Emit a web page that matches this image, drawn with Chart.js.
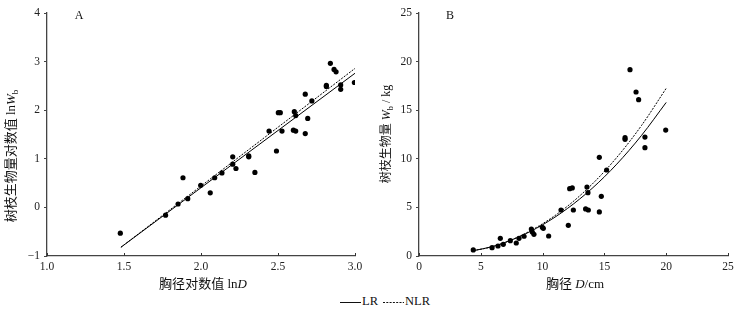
<!DOCTYPE html>
<html>
<head>
<meta charset="utf-8">
<script src="https://cdn.jsdelivr.net/npm/chart.js@4.4.1/dist/chart.umd.min.js"></script>
<style>
  body { margin: 0; background: #fff; }
  #wrap { position: relative; width: 738px; height: 317px; }
  #leftChart { position: absolute; left: 0; top: 0; }
  #rightChart { position: absolute; left: 369px; top: 0; }
  .lg { position: absolute; top: 294px; line-height: 16px; font: 12.5px "Liberation Serif", "Times New Roman", serif; color: #111; }
</style>
</head>
<body>
<div id="wrap">
  <canvas id="leftChart" width="369" height="290"></canvas>
  <canvas id="rightChart" width="369" height="290"></canvas>
  <svg style="position:absolute;left:339px;top:296px" width="24" height="12"><line x1="1" y1="6.5" x2="22" y2="6.5" stroke="#111" stroke-width="1"/></svg>
  <span class="lg" style="left:362px">LR</span>
  <svg style="position:absolute;left:382px;top:296px" width="24" height="12"><line x1="1" y1="6.5" x2="22" y2="6.5" stroke="#111" stroke-width="1" stroke-dasharray="2,1.3"/></svg>
  <span class="lg" style="left:405px">NLR</span>
</div>
<script>
// A: log-log scatter (ln D vs ln Wb)
let lnD  = [1.476, 1.77, 1.851, 1.883, 1.914, 1.998, 2.06, 2.089, 2.136, 2.206, 2.206, 2.227,
            2.31, 2.31, 2.35, 2.442, 2.49, 2.502, 2.515, 2.526, 2.6, 2.606, 2.615, 2.615,
            2.677, 2.677, 2.693, 2.72, 2.814, 2.814, 2.84, 2.864, 2.877, 2.907, 2.907, 2.996];
let lnWb = [-0.53, -0.16, 0.07, 0.61, 0.18, 0.455, 0.30, 0.61, 0.71, 1.04, 0.89, 0.80,
            1.06, 1.04, 0.72, 1.57, 1.16, 1.95, 1.95, 1.57, 1.59, 1.97, 1.89, 1.57,
            2.33, 1.52, 1.83, 2.19, 2.51, 2.49, 2.965, 2.84, 2.79, 2.52, 2.43, 2.57];
let lnFitX   = [1.48, 3.0];
let lnFitLR  = [-0.82, 2.76];
let lnFitNLR = [-0.82, 2.86];

// B: D vs Wb
let diamD = [4.39, 5.91, 6.39, 6.58, 6.82, 7.39, 7.87, 8.09, 8.5, 9.09, 9.17, 9.3,
             9.98, 10.06, 10.49, 11.49, 12.08, 12.19, 12.4, 12.49, 13.48, 13.59, 13.67, 13.7,
             14.59, 14.59, 14.75, 15.18, 16.67, 16.67, 17.07, 17.56, 17.77, 18.28, 18.28, 19.96];
let branchW = [0.62, 0.86, 1.03, 1.82, 1.2, 1.58, 1.34, 1.82, 2.03, 2.78, 2.47, 2.23,
               2.95, 2.85, 2.06, 4.73, 3.16, 6.93, 7.0, 4.73, 4.84, 7.1, 6.52, 4.73,
               10.15, 4.53, 6.14, 8.85, 12.17, 12.0, 19.17, 16.87, 16.08, 12.24, 11.14, 12.96];
let fitD      = [4.4, 6, 8, 10, 12, 14, 16, 18, 20];
let fitLR     = [0.55, 0.99, 1.92, 3.21, 4.88, 6.95, 9.45, 12.4, 15.8];
let fitNLR    = [0.55, 0.98, 1.95, 3.32, 5.11, 7.38, 10.14, 13.42, 17.25];

let tickFont = { family: "'Liberation Serif', 'Times New Roman', serif", size: 11.5 };
let titleFamily = "'Liberation Serif', 'Noto Sans CJK SC', serif";

function pts(xs, ys) { return xs.map((x, i) => ({ x: x, y: ys[i] })); }

// draws a run of text pieces (italic / subscript) centred at 0,0
function drawRich(ctx, parts, size) {
  let fontOf = p => (p.it ? "italic " : "") + (p.sub ? size * 0.7 : size) + "px " + titleFamily;
  let total = 0;
  parts.forEach(p => { ctx.font = fontOf(p); total += ctx.measureText(p.t).width; });
  let x = -total / 2;
  ctx.textBaseline = "middle";
  ctx.textAlign = "left";
  parts.forEach(p => {
    ctx.font = fontOf(p);
    ctx.fillText(p.t, x, p.sub ? 3.5 : 0);
    x += ctx.measureText(p.t).width;
  });
}

let titlesPlugin = {
  id: "titles",
  afterDraw(chart, args, o) {
    let ctx = chart.ctx;
    ctx.save();
    ctx.fillStyle = "#111";
    // x ticks pointing inward
    let xs = chart.scales.x;
    ctx.strokeStyle = "#333";
    ctx.lineWidth = 1;
    xs.ticks.forEach(t => {
      let px = Math.round(xs.getPixelForValue(t.value)) + 0.5;
      ctx.beginPath();
      ctx.moveTo(px, xs.top);
      ctx.lineTo(px, xs.top - 3);
      ctx.stroke();
    });
    // x title
    ctx.save();
    ctx.translate(o.xTitlePos[0], o.xTitlePos[1]);
    drawRich(ctx, o.xTitle, 13);
    ctx.restore();
    // y title
    ctx.save();
    ctx.translate(o.yTitlePos[0], o.yTitlePos[1]);
    ctx.rotate(-Math.PI / 2);
    drawRich(ctx, o.yTitle, o.ySize);
    ctx.restore();
    // panel letter
    ctx.font = "12px " + titleFamily;
    ctx.textAlign = "center";
    ctx.textBaseline = "middle";
    ctx.fillText(o.panel, o.panelPos[0], o.panelPos[1]);
    ctx.restore();
  }
};

function makeScale(min, max, step, fixed, size, fmt) {
  return {
    type: "linear", min: min, max: max,
    afterFit: s => { if (s.isHorizontal()) s.height = size; else s.width = size; },
    border: { display: true, color: "#444", width: 1.3 },
    grid: { display: true, drawOnChartArea: false, drawTicks: !fixed, tickLength: 3, color: "#444" },
    ticks: { stepSize: step, font: tickFont, color: "#222", padding: 4, maxRotation: 0,
             callback: fmt }
  };
}

let minus = v => (v < 0 ? "\u2212" + Math.abs(v) : String(v));

new Chart(document.getElementById("leftChart"), {
  type: "scatter",
  data: {
    datasets: [
      { data: pts(lnD, lnWb), pointRadius: 2.6, pointBorderWidth: 0, backgroundColor: "#000" },
      { type: "line", data: pts(lnFitX, lnFitLR), borderColor: "#000", borderWidth: 1, pointRadius: 0, fill: false },
      { type: "line", data: pts(lnFitX, lnFitNLR), borderColor: "#000", borderWidth: 1, borderDash: [2, 1.3], pointRadius: 0, fill: false }
    ]
  },
  options: {
    responsive: false, animation: false,
    layout: { padding: { top: 13, right: 14, left: 0, bottom: 0 } },
    plugins: {
      legend: { display: false }, tooltip: { enabled: false },
      titles: {
        xTitle: [{ t: "胸径对数值 ln" }, { t: "D", it: true }], xTitlePos: [203, 285],
        yTitle: [{ t: "树枝生物量对数值 ln" }, { t: "W", it: true }, { t: "b", sub: true }], yTitlePos: [12, 156], ySize: 13,
        panel: "A", panelPos: [79, 16]
      }
    },
    scales: {
      x: makeScale(1, 3, 0.5, true, 34, v => v.toFixed(1)),
      y: makeScale(-1, 4, 1, false, 47, minus)
    }
  },
  plugins: [titlesPlugin]
});

new Chart(document.getElementById("rightChart"), {
  type: "scatter",
  data: {
    datasets: [
      { data: pts(diamD, branchW), pointRadius: 2.6, pointBorderWidth: 0, backgroundColor: "#000" },
      { type: "line", data: pts(fitD, fitLR), borderColor: "#000", borderWidth: 1, pointRadius: 0, fill: false, cubicInterpolationMode: "monotone" },
      { type: "line", data: pts(fitD, fitNLR), borderColor: "#000", borderWidth: 1, borderDash: [2, 1.3], pointRadius: 0, fill: false, cubicInterpolationMode: "monotone" }
    ]
  },
  options: {
    responsive: false, animation: false,
    layout: { padding: { top: 13, right: 10, left: 0, bottom: 0 } },
    plugins: {
      legend: { display: false }, tooltip: { enabled: false },
      titles: {
        xTitle: [{ t: "胸径 " }, { t: "D", it: true }, { t: "/cm" }], xTitlePos: [206, 285],
        yTitle: [{ t: "树枝生物量 " }, { t: "W", it: true }, { t: "b", sub: true }, { t: " / kg" }], yTitlePos: [18, 134], ySize: 12,
        panel: "B", panelPos: [81, 16]
      }
    },
    scales: {
      x: makeScale(0, 25, 5, true, 34, v => String(v)),
      y: makeScale(0, 25, 5, false, 50, v => String(v))
    }
  },
  plugins: [titlesPlugin]
});
</script>
</body>
</html>
